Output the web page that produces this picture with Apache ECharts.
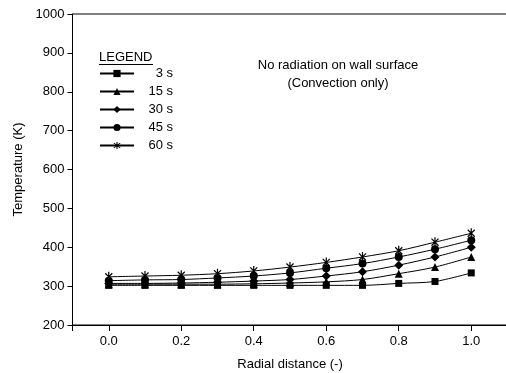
<!DOCTYPE html>
<html>
<head>
<meta charset="utf-8">
<script src="https://cdn.jsdelivr.net/npm/echarts@6/dist/echarts.min.js"></script>
<style>
  html, body { margin: 0; padding: 0; background: #fff; }
  #chart { width: 506px; height: 373px; }
</style>
</head>
<body>
<div id="chart"></div>
<script>
// Radial positions (dimensionless) and wall temperatures (K) at each time
const radialDistance = [0.0, 0.1, 0.2, 0.3, 0.4, 0.5, 0.6, 0.7, 0.8, 0.9, 1.0];
const temp3s  = [302, 302, 302, 302, 302, 302, 302, 302, 307, 312, 334];
const temp15s = [305, 305, 305, 305, 306, 308, 311, 317, 332, 349, 375];
const temp30s = [307, 307, 308, 310, 313, 317, 326, 337, 354, 375, 400];
const temp45s = [314, 316, 317, 321, 326, 334, 346, 358, 375, 395, 418];
const temp60s = [324, 326, 328, 332, 339, 349, 361, 375, 391, 413, 436];
const seriesNames = ['3 s', '15 s', '30 s', '45 s', '60 s'];
const xTicks = [0.0, 0.2, 0.4, 0.6, 0.8, 1.0];

const FONT = 'Liberation Sans, Arial, Helvetica, sans-serif';

// asterisk marker: vertical bar plus two diagonal bars
const asterisk = 'path://M-0.12,-1L0.12,-1L0.12,1L-0.12,1Z' +
  'M0.622,0.792L-0.792,-0.622L-0.622,-0.792L0.792,0.622Z' +
  'M0.792,-0.622L-0.622,0.792L-0.792,0.622L0.622,-0.792Z';

const seriesDefs = [
  { name: seriesNames[0], data: temp3s,  symbol: 'rect',     size: 7 },
  { name: seriesNames[1], data: temp15s, symbol: 'triangle', size: 8 },
  { name: seriesNames[2], data: temp30s, symbol: 'diamond',  size: 9 },
  { name: seriesNames[3], data: temp45s, symbol: 'circle',   size: 8 },
  { name: seriesNames[4], data: temp60s, symbol: asterisk,   size: 10 }
];

const chart = echarts.init(document.getElementById('chart'), null, { renderer: 'canvas' });

chart.setOption({
  backgroundColor: '#fff',
  animation: false,
  grid: {
    left: 72.5, right: -1.5, top: 14, bottom: 48,
    outerBoundsMode: 'none', containLabel: false,
    show: true, borderColor: '#000', borderWidth: 1, backgroundColor: 'transparent'
  },
  xAxis: {
    type: 'value',
    min: -0.1, max: 1.1, splitNumber: 6,
    name: 'Radial distance (-)',
    nameLocation: 'middle', nameGap: 33,
    nameTextStyle: { color: '#000', fontSize: 13, fontFamily: FONT },
    axisLine: { onZero: false, lineStyle: { color: '#000', width: 1 } },
    axisTick: {
      show: true, inside: false, length: 6, lineStyle: { color: '#000', width: 1 }
    },
    axisLabel: {
      color: '#000', fontSize: 13, fontFamily: FONT, margin: 10,
      customValues: xTicks,
      formatter: v => v.toFixed(1)
    },
    splitLine: { show: false }
  },
  yAxis: {
    type: 'value',
    min: 200, max: 1000, interval: 100,
    name: 'Temperature (K)',
    nameLocation: 'middle', nameGap: 25,
    nameTextStyle: { color: '#000', fontSize: 13, fontFamily: FONT },
    axisLine: { show: true, onZero: false, lineStyle: { color: '#000', width: 1 } },
    axisTick: {
      show: true, inside: false, length: 5, lineStyle: { color: '#000', width: 1 }
    },
    axisLabel: {
      color: '#000', fontSize: 13, fontFamily: FONT, margin: 8,
      formatter: v => String(v)
    },
    splitLine: { show: false }
  },
  legend: {
    orient: 'vertical',
    left: 99, top: 67, padding: 0,
    itemWidth: 34, itemHeight: 9, itemGap: 5,
    textStyle: {
      color: '#000', fontSize: 13, fontFamily: FONT,
      rich: { t: { width: 34, align: 'right', fontSize: 13, fontFamily: FONT, color: '#000' } }
    },
    formatter: name => '{t|' + name + '}',
    data: seriesNames
  },
  graphic: [
    {
      type: 'text', left: 99, top: 51,
      style: { text: 'LEGEND', fill: '#000', font: '13px ' + FONT }
    },
    {
      type: 'line', shape: { x1: 99, y1: 64.5, x2: 153, y2: 64.5 },
      style: { stroke: '#000', lineWidth: 1 }
    },
    {
      type: 'text', x: 338, y: 56,
      style: {
        text: 'No radiation on wall surface\n(Convection only)',
        fill: '#000', font: '13px ' + FONT, align: 'center', lineHeight: 18
      }
    }
  ],
  series: seriesDefs.map(s => ({
    name: s.name,
    type: 'line',
    smooth: 0.3,
    data: radialDistance.map((x, i) => [x, s.data[i]]),
    symbol: s.symbol,
    symbolSize: s.size,
    symbolKeepAspect: true,
    showAllSymbol: true,
    lineStyle: { color: '#000', width: 1 },
    itemStyle: { color: '#000' },
    emphasis: { disabled: true }
  }))
});
</script>
</body>
</html>
